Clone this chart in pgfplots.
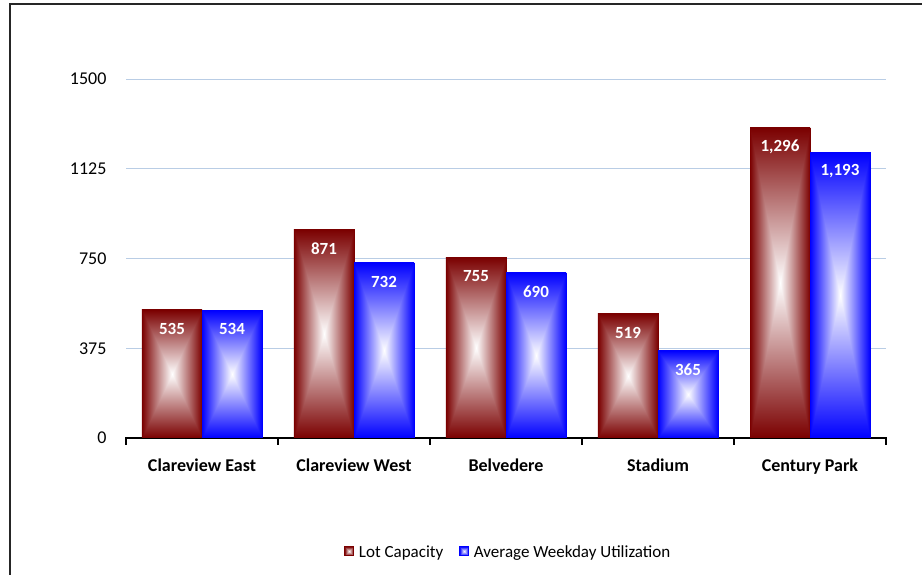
\documentclass[border=0pt]{standalone}
\usepackage{pgfplots}
\pgfplotsset{compat=1.18}
\usepackage{fontspec}
\setmainfont{Carlito}

\pgfdeclarefunctionalshading{boxred}{\pgfpoint{-50bp}{-50bp}}{\pgfpoint{50bp}{50bp}}{}{
 abs exch abs 2 copy lt {exch} if pop 25 div dup 1 gt {pop 1} if
 dup dup 0.52 mul 1 exch sub 3 1 roll 1 exch sub exch 1 exch sub
}
\pgfdeclarefunctionalshading{boxblue}{\pgfpoint{-50bp}{-50bp}}{\pgfpoint{50bp}{50bp}}{}{
 abs exch abs 2 copy lt {exch} if pop 25 div dup 1 gt {pop 1} if
 1 exch sub dup 1
}
\definecolor{edgered}{RGB}{122,0,0}
\definecolor{edgeblue}{RGB}{0,0,255}
\definecolor{gridblue}{RGB}{185,205,229}

\begin{document}
\begin{tikzpicture}[x=1pt,y=1pt]
\useasboundingbox (0,0) rectangle (922,575);
\draw[line width=1.4pt, black!85] (10,-20) -- (10,571) -- (960,571);
\begin{axis}[
  at={(126pt,137pt)}, anchor=south west,
  scale only axis, width=760pt, height=359pt,
  xmin=-0.5, xmax=4.5, ymin=0, ymax=1500,
  axis x line*=bottom, axis y line*=left,
  y axis line style={draw=none},
  x axis line style={line width=1.2pt, black, shorten >=-0.6pt, shorten <=-0.6pt},
  ytick={0,375,750,1125,1500},
  ytick style={draw=none},
  ymajorgrids, grid style={gridblue, line width=0.9pt},
  yticklabel style={font=\fontsize{18}{18}\selectfont, xshift=-9pt},
  /pgf/number format/assume math mode=true,
  scaled y ticks=false,
  yticklabel={\pgfmathprintnumber[1000 sep={}]{\tick}},
  xtick={-0.5,0.5,1.5,2.5,3.5,4.5}, xticklabels={},
  xtick style={black, line width=1.2pt},
  major tick length=7pt, tick align=outside,
  extra x ticks={0,1,2,3,4},
  extra x tick labels={Clareview East,Clareview West,Belvedere,Stadium,Century Park},
  extra x tick style={major tick length=0pt, grid=none,
     xticklabel style={font=\fontsize{18}{18}\selectfont\bfseries, yshift=-17pt}},
  ybar, bar width=60pt,
  nodes near coords={\pgfmathprintnumber[1000 sep={,}]{\pgfplotspointmeta}},
  nodes near coords align={anchor=center},
  every node near coord/.append style={font=\fontsize{17}{17}\selectfont\bfseries, text=white, yshift=-19pt},
  legend columns=2,
  legend style={at={(0.503,-0.318)}, anchor=center, draw=none, fill=none,
     font=\fontsize{17}{17}\selectfont,
     /tikz/every even column/.append style={column sep=14pt}},
  legend image code/.code={\draw[#1] (0pt,-3.5pt) rectangle (9pt,5.5pt); \path (12pt,0pt);},
  redbar/.style={shade, shading=boxred, draw=edgered, line width=0.6pt, bar shift=-30pt},
  bluebar/.style={shade, shading=boxblue, draw=edgeblue, line width=0.6pt, bar shift=30pt},
]
\addplot[redbar] coordinates {(0,535)};
\addplot[bluebar] coordinates {(0,534)};
\addplot[redbar, forget plot] coordinates {(1,871)};
\addplot[bluebar, forget plot] coordinates {(1,732)};
\addplot[redbar, forget plot] coordinates {(2,755)};
\addplot[bluebar, forget plot] coordinates {(2,690)};
\addplot[redbar, forget plot] coordinates {(3,519)};
\addplot[bluebar, forget plot] coordinates {(3,365)};
\addplot[redbar, forget plot] coordinates {(4,1296)};
\addplot[bluebar, forget plot] coordinates {(4,1193)};
\legend{Lot Capacity, Average Weekday Utilization}
\end{axis}
\end{tikzpicture}
\end{document}
